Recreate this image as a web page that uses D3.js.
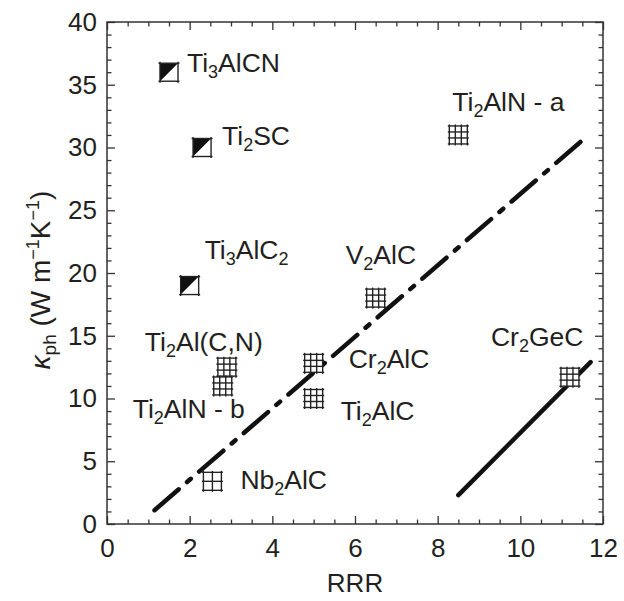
<!DOCTYPE html>
<html>
<head>
<meta charset="utf-8">
<script src="https://cdn.jsdelivr.net/npm/d3@7"></script>
<style>
  html, body { margin: 0; padding: 0; background: #fff; }
  svg text { font-family: "Liberation Sans", Arial, Helvetica, sans-serif; fill: #231f20; }
</style>
</head>
<body>
<svg id="chart" width="624" height="601"></svg>
<script>
// Phonon thermal conductivity vs residual resistivity ratio for MAX phases
const compounds = ["Ti3AlCN", "Ti2SC", "Ti3AlC2", "Ti2AlN - a", "V2AlC", "Ti2Al(C,N)",
                   "Cr2AlC", "Ti2AlN - b", "Ti2AlC", "Nb2AlC", "Cr2GeC"];
const rrr   = [1.5, 2.3, 2.0, 8.5, 6.5, 2.9, 5.0, 2.8, 5.0, 2.55, 11.2];
const kappa = [36, 30, 19, 31, 18, 12.5, 12.8, 11, 10, 3.4, 11.7];
const markerType = ["half", "half", "half", "grid3", "grid3", "grid3",
                    "grid3", "grid3", "grid3", "grid2", "grid3"];

// Label rich text: [text, isSubscript]
const labelParts = [
  [["Ti", 0], ["3", 1], ["AlCN", 0]],
  [["Ti", 0], ["2", 1], ["SC", 0]],
  [["Ti", 0], ["3", 1], ["AlC", 0], ["2", 1]],
  [["Ti", 0], ["2", 1], ["AlN - a", 0]],
  [["V", 0], ["2", 1], ["AlC", 0]],
  [["Ti", 0], ["2", 1], ["Al(C,N)", 0]],
  [["Cr", 0], ["2", 1], ["AlC", 0]],
  [["Ti", 0], ["2", 1], ["AlN - b", 0]],
  [["Ti", 0], ["2", 1], ["AlC", 0]],
  [["Nb", 0], ["2", 1], ["AlC", 0]],
  [["Cr", 0], ["2", 1], ["GeC", 0]]
];
// Label placement relative to each marker (px)
const labelOffsets = [[18, 0], [20, -3], [15, -27], [-6, -24], [-30, -34], [-82, -16],
                      [35, 5], [-90, 32], [27, 21], [28, 8], [-79, -31]];

// Guide lines (RRR, kappa) endpoints
const dashDotLine = [[1.15, 1.1], [11.65, 31.0]];
const solidLine   = [[8.5, 2.3], [11.7, 12.9]];

const xMajor = [0, 2, 4, 6, 8, 10, 12];
const yMajor = [0, 5, 10, 15, 20, 25, 30, 35, 40];
const xMinor = d3.range(0, 12.01, 0.5).filter(v => v % 2 !== 0);
const yMinor = d3.range(0, 40.01, 1).filter(v => v % 5 !== 0);

const svg = d3.select("#chart");
const L = 107, R = 603, T = 22, B = 524;
const x = d3.scaleLinear().domain([0, 12]).range([L, R]);
const y = d3.scaleLinear().domain([0, 40]).range([B, T]);

const axisColor = "#333";
const tickFont = 26, labelFont = 26.5, subFont = 18, subShift = 6;
function styleAxis(g) {
  g.select(".domain").remove();
  g.selectAll("line").attr("stroke", axisColor).attr("stroke-width", 1.3);
  g.selectAll("text").attr("font-size", tickFont).attr("fill", "#231f20");
}

// bottom
svg.append("g").attr("transform", `translate(0,${B})`)
  .call(d3.axisBottom(x).tickValues(xMajor).tickSize(-8).tickPadding(15).tickFormat(d3.format("d")))
  .call(styleAxis);
svg.append("g").attr("transform", `translate(0,${B})`)
  .call(d3.axisBottom(x).tickValues(xMinor).tickSize(-4.5).tickFormat(""))
  .call(styleAxis);
// top
svg.append("g").attr("transform", `translate(0,${T})`)
  .call(d3.axisTop(x).tickValues(xMajor).tickSize(-8).tickFormat(""))
  .call(styleAxis);
svg.append("g").attr("transform", `translate(0,${T})`)
  .call(d3.axisTop(x).tickValues(xMinor).tickSize(-4.5).tickFormat(""))
  .call(styleAxis);
// left
svg.append("g").attr("transform", `translate(${L},0)`)
  .call(d3.axisLeft(y).tickValues(yMajor).tickSize(-8).tickPadding(10).tickFormat(d3.format("d")))
  .call(styleAxis);
svg.append("g").attr("transform", `translate(${L},0)`)
  .call(d3.axisLeft(y).tickValues(yMinor).tickSize(-4.5).tickFormat(""))
  .call(styleAxis);
// right
svg.append("g").attr("transform", `translate(${R},0)`)
  .call(d3.axisRight(y).tickValues(yMajor).tickSize(-8).tickFormat(""))
  .call(styleAxis);
svg.append("g").attr("transform", `translate(${R},0)`)
  .call(d3.axisRight(y).tickValues(yMinor).tickSize(-4.5).tickFormat(""))
  .call(styleAxis);

// frame
svg.append("rect").attr("x", L).attr("y", T).attr("width", R - L).attr("height", B - T)
  .attr("fill", "none").attr("stroke", axisColor).attr("stroke-width", 1.5);

// guide lines
const lineGen = d3.line().x(d => x(d[0])).y(d => y(d[1]));
svg.append("path").datum(dashDotLine).attr("d", lineGen)
  .attr("fill", "none").attr("stroke", "#111").attr("stroke-width", 4.5)
  .attr("stroke-linecap", "round").attr("stroke-dasharray", "32,11,5,11");
svg.append("path").datum(solidLine).attr("d", lineGen)
  .attr("fill", "none").attr("stroke", "#111").attr("stroke-width", 4.5)
  .attr("stroke-linecap", "round");

// markers
const S = 18; // marker side
const pts = compounds.map((c, i) => ({ c, rx: rrr[i], k: kappa[i], type: markerType[i], i }));
const mk = svg.append("g").selectAll("g").data(pts).join("g")
  .attr("transform", d => `translate(${x(d.rx)},${y(d.k)})`);

mk.each(function(d) {
  const g = d3.select(this);
  const h = S / 2;
  g.append("rect").attr("x", -h).attr("y", -h).attr("width", S).attr("height", S)
    .attr("fill", "#fff").attr("stroke", "none");
  if (d.type === "half") {
    g.append("path").attr("d", `M${-h},${-h}L${h},${-h}L${-h},${h}Z`).attr("fill", "#111");
  }
  const n = d.type === "grid3" ? 3 : (d.type === "grid2" ? 2 : 1);
  const ext = 1.5;
  for (let j = 0; j <= n; j++) {
    const p = -h + j * S / n;
    g.append("line").attr("x1", p).attr("x2", p).attr("y1", -h - ext).attr("y2", h + ext)
      .attr("stroke", "#222").attr("stroke-width", 1.4);
    g.append("line").attr("y1", p).attr("y2", p).attr("x1", -h - ext).attr("x2", h + ext)
      .attr("stroke", "#222").attr("stroke-width", 1.4);
  }
});

// compound labels
pts.forEach(d => {
  const off = labelOffsets[d.i];
  const t = svg.append("text")
    .attr("x", x(d.rx) + off[0]).attr("y", y(d.k) + off[1])
    .attr("font-size", labelFont);
  let shifted = false;
  labelParts[d.i].forEach(([s, sub]) => {
    const ts = t.append("tspan").text(s);
    if (sub) {
      ts.attr("font-size", subFont);
      if (!shifted) { ts.attr("dy", subShift); shifted = true; }
    } else if (shifted) { ts.attr("dy", -subShift); shifted = false; }
  });
});

// axis titles
svg.append("text").attr("x", (L + R) / 2).attr("y", 592).attr("text-anchor", "middle")
  .attr("font-size", tickFont).text("RRR");

const yt = svg.append("text").attr("transform", "translate(50,280) rotate(-90)")
  .attr("text-anchor", "middle").attr("font-size", 28);
yt.append("tspan").attr("font-style", "italic").text("κ");
yt.append("tspan").attr("font-size", 19).attr("dy", 6).text("ph");
yt.append("tspan").attr("dy", -6).text(" (W m");
yt.append("tspan").attr("font-size", 18).attr("dy", -11).text("−1");
yt.append("tspan").attr("dy", 11).text("K");
yt.append("tspan").attr("font-size", 18).attr("dy", -11).text("−1");
yt.append("tspan").attr("dy", 11).text(")");
</script>
</body>
</html>
